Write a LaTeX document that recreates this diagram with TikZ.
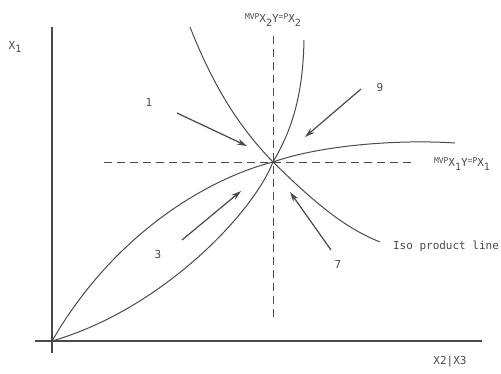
\documentclass[tikz,border=0pt]{standalone}
\usepackage{fontspec}
\setmonofont{DejaVu Sans Mono}
\usetikzlibrary{arrows.meta}
\definecolor{ink}{HTML}{4A4A4A}
\newcommand{\supx}[1]{\raisebox{3.5pt}{\fontsize{8}{9}\selectfont #1}}
\newcommand{\subx}[1]{\raisebox{-3.5pt}{\fontsize{10}{11}\selectfont #1}}
\begin{document}
\begin{tikzpicture}[x=1pt,y=-1pt,
  curve/.style={draw=ink, line width=1pt},
  axis/.style={draw=ink, line width=1.1pt},
  dashline/.style={draw=ink, line width=1pt, dash pattern=on 8pt off 5pt},
  arr/.style={draw=ink, fill=ink, line width=1.2pt, -{Stealth[length=10pt,width=6pt]}},
  lbl/.style={text=ink, font=\ttfamily\fontsize{11}{12}\selectfont, inner sep=0pt}]
\useasboundingbox (0,0) rectangle (501,373);
% key points
\coordinate (c) at (273,162);
\coordinate (o) at (52,341);
% axes
\coordinate (ytop) at (52,27);
\coordinate (ybot) at (52,353);
\coordinate (xl) at (35,341);
\coordinate (xr) at (482,341);
\draw[axis] (ytop) -- (ybot);
\draw[axis] (xl) -- (xr);
% dashed lines
\coordinate (vt) at (273,36);
\coordinate (vb) at (273,317);
\coordinate (hl) at (104,162);
\coordinate (hr) at (415,162);
\draw[dashline] (vt) -- (vb);
\draw[dashline] (hl) -- (hr);
% curves
\coordinate (a1) at (190,27);
\coordinate (a2) at (380,242);
\draw[curve] (a1) .. controls (214,88) and (240,128) .. (c) .. controls (308,196) and (340,226) .. (a2);
\coordinate (b1) at (304,40);
\draw[curve] (b1) .. controls (303,95) and (292,130) .. (c) .. controls (252,215) and (160,310) .. (o);
\coordinate (d1) at (455,143);
\draw[curve] (d1) .. controls (395,139) and (318,146) .. (c) .. controls (210,178) and (115,232) .. (o);
% arrows
\coordinate (s1) at (177,113); \coordinate (e1) at (247,146);
\coordinate (s9) at (361,89);  \coordinate (e9) at (305,137);
\coordinate (s3) at (182,240); \coordinate (e3) at (241,191);
\coordinate (s7) at (331,250); \coordinate (e7) at (290,192);
\draw[arr] (s1) -- (e1);
\draw[arr] (s9) -- (e9);
\draw[arr] (s3) -- (e3);
\draw[arr] (s7) -- (e7);
% labels
\node[lbl] (lx1) at (15,47) {X\subx{1}};
\node[lbl] (ltop) at (273,20) {\supx{MVP}X\subx{2}Y\supx{=P}X\subx{2}};
\node[lbl] (lright) at (462,164) {\supx{MVP}X\subx{1}Y\supx{=P}X\subx{1}};
\node[lbl] (liso) at (446,246) {Iso product line};
\node[lbl] (lx23) at (450,362) {X2|X3};
\node[lbl] (n1) at (149,102) {1};
\node[lbl] (n9) at (380,87) {9};
\node[lbl] (n3) at (158,254) {3};
\node[lbl] (n7) at (338,264) {7};
\end{tikzpicture}
\end{document}
